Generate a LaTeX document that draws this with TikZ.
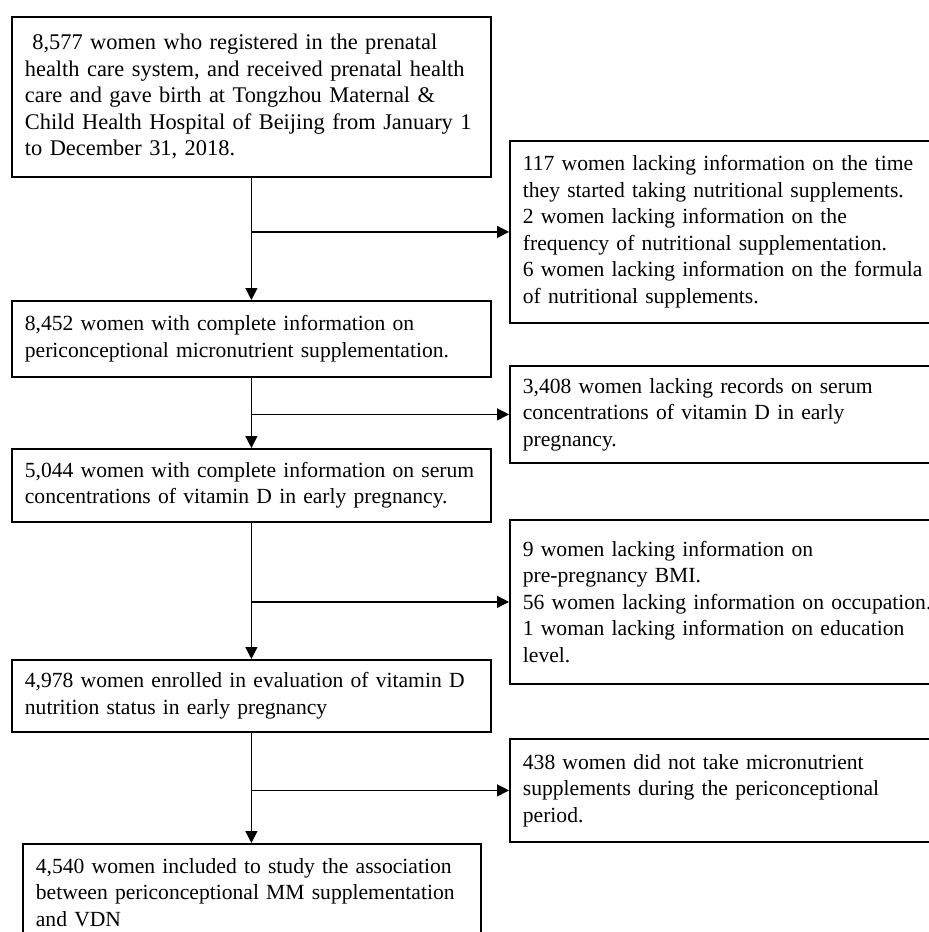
\documentclass[tikz,border=0pt]{standalone}
\usepackage{fontspec}
\setmainfont{Liberation Serif}
\usetikzlibrary{positioning}
\usetikzlibrary{arrows.meta}

\newcommand\boxfont[1][10.8]{\fontsize{#1}{13.25}\selectfont\hyphenpenalty=10000\relax}

\tikzset{
  box/.style={draw, line width=0.9pt, anchor=north west, align=left,
    inner xsep=6.5pt, inner ysep=0pt, font=\boxfont},
  mainbox/.style={box, text width=226.5pt},
  sidebox/.style={box, text width=212.5pt},
}

\begin{document}
\begin{tikzpicture}
        [ x=0.5pt, y=-0.5pt
        , line width=0.65pt
        , >={Triangle[length=6pt,width=6pt]}
        ]
        \clip (0,0) rectangle (929,932);
        % main column
        \node[mainbox, minimum height=80pt, font={\boxfont[11.2]}] (reg) at (11,16)
            {\ 8,577 women who registered in the prenatal\\
             health care system, and received prenatal health\\
             care and gave birth at Tongzhou Maternal \&\\
             Child Health Hospital of Beijing from January 1\\
             to December 31, 2018.};
        \node[mainbox, minimum height=38pt] (suppl) at (11,300)
            {8,452 women with complete information on\\
             periconceptional micronutrient supplementation.};
        \node[mainbox, minimum height=36.5pt] (serum) at (11,448)
            {5,044 women with complete information on serum\\
             concentrations of vitamin D in early pregnancy.};
        \node[mainbox, minimum height=36pt] (eval) at (11,659)
            {4,978 women enrolled in evaluation of vitamin D\\
             nutrition status in early pregnancy};
        \node[mainbox, text width=216pt, minimum height=48.5pt] (study) at (22,843)
            {4,540 women included to study the association\\
             between periconceptional MM supplementation\\
             and VDN};
        % exclusions
        \node[sidebox, minimum height=91pt] (noinfo) at (509,140)
            {117 women lacking information on the time\\
             they started taking nutritional supplements.\\
             2 women lacking information on the\\
             frequency of nutritional supplementation.\\
             6 women lacking information on the formula\\
             of nutritional supplements.};
        \node[sidebox, minimum height=48.5pt] (norecord) at (509,365)
            {3,408 women lacking records on serum\\
             concentrations of vitamin D in early\\
             pregnancy.};
        \node[sidebox, minimum height=82pt] (nocov) at (509,519)
            {9 women lacking information on\\
             pre-pregnancy BMI.\\
             56 women lacking information on occupation.\\
             1 woman lacking information on education\\
             level.};
        \node[sidebox, minimum height=51.5pt] (nosuppl) at (509,738)
            {438 women did not take micronutrient\\
             supplements during the periconceptional\\
             period.};
        % arrows
        \draw[->] (reg.south) -- (suppl.north);
        \draw[->] (suppl.south) -- (serum.north);
        \draw[->] (serum.south) -- (eval.north);
        \draw[->] (eval.south) -- (eval.south |- study.north);
        \draw[->] (reg.south |- noinfo.west) -- (noinfo.west);
        \draw[->] (suppl.south |- norecord.west) -- (norecord.west);
        \draw[->] (serum.south |- nocov.west) -- (nocov.west);
        \draw[->] (eval.south |- nosuppl.west) -- (nosuppl.west);
\end{tikzpicture}
\end{document}
